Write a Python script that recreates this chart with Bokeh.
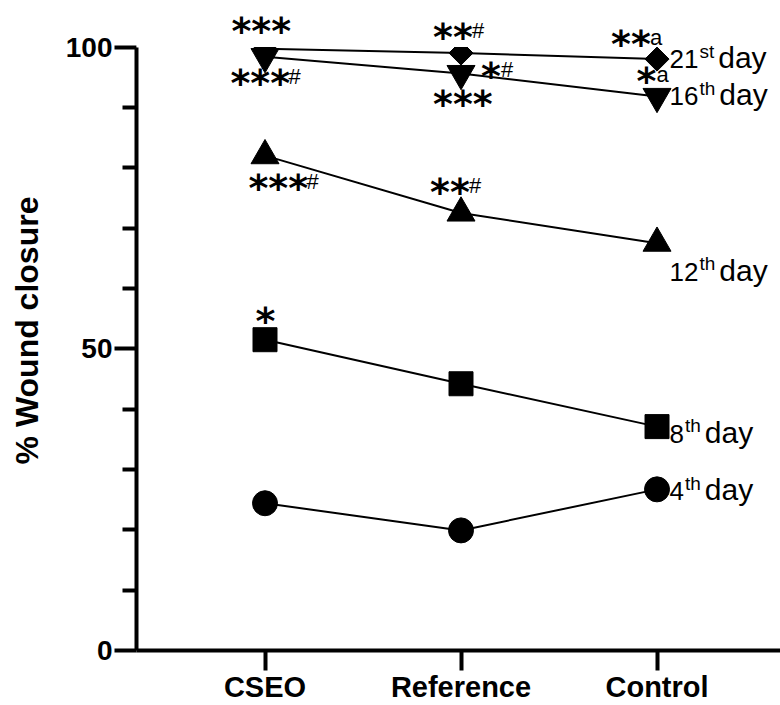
import math
from bokeh.plotting import figure
from bokeh.models import Range1d, FixedTicker, BoxAnnotation, ColumnDataSource
from bokeh.core.properties import value
from bokeh.embed import file_html
from bokeh.resources import INLINE

# ---------------- data ----------------
groups = ["CSEO", "Reference", "Control"]
day4 = [24.4, 19.9, 26.7]
day8 = [51.5, 44.2, 37.1]
day12 = [82.0, 72.5, 67.5]
day16 = [98.4, 95.6, 91.8]
day21 = [99.7, 99.0, 98.0]
series = {"4": day4, "8": day8, "12": day12, "16": day16, "21": day21}
day_numbers = ["4", "8", "12", "16", "21"]
day_suffix = ["th", "th", "th", "th", "st"]
y_ticks = [0, 50, 100]
y_minor = [10, 20, 30, 40, 60, 70, 80, 90]

# significance annotations
ann_stars = ["***", "***", "**", "*", "***", "**", "*", "***", "**", "*"]
ann_suffix = ["", "#", "#", "#", "", "a", "a", "#", "#", ""]
ann_group = [0, 0, 1, 1, 1, 2, 2, 0, 1, 0]
ann_series = ["21", "16", "21", "16", "16", "21", "16", "12", "12", "8"]

# ---------------- styles ----------------
markers = {"4": ("circle", 25, 0), "8": ("square", 24, 0), "12": ("triangle", 28, 0),
           "16": ("inverted_triangle", 28, 0), "21": ("square", 17, math.pi / 4)}
ann_dx = [-33.5, -34.5, -28, 20, -28, -46, -20.5, -16.5, -31, -9.5]
ann_dy = [-23, 21, -21, -3, 25.5, -20.5, -20.5, 27.5, -26, -24]
day_dy = {"4": 11, "8": 16, "12": 37.5, "16": 9, "21": 9}
STAR_SIZE = 38
STAR_ADV = 0.5 * STAR_SIZE
STAR_SHIFT = 0.135 * STAR_SIZE      # star centre -> drawing position
SUF_SIZE = 22
SUF_RISE = 6.5                     # suffix baseline below star centre
NUM_SIZE, SUP_SIZE, DAY_SIZE = 26, 19, 30
BASE_CORR = 0.35                   # baseline correction (em) of the svg text placement

W = {'0': .556, '1': .556, '2': .556, '4': .556, '6': .556, '8': .556,
     's': .5, 't': .278, 'h': .556, 'd': .556, 'a': .556, 'y': .5}


def tw(s, size):
    return sum(W[c] for c in s) * size


xs = list(range(1, len(groups) + 1))

p = figure(width=780, height=705, x_range=Range1d(0.3444, 3.630), y_range=Range1d(0, 106.05),
           output_backend="svg", toolbar_location=None, title=None,
           min_border_left=136, min_border_right=0, min_border_top=10, min_border_bottom=0)
p.outline_line_color = None
p.xgrid.visible = False
p.ygrid.visible = False
p.background_fill_color = "white"

# axes
p.xaxis.ticker = FixedTicker(ticks=xs)
p.xaxis.major_label_overrides = {x: g for x, g in zip(xs, groups)}
p.yaxis.ticker = FixedTicker(ticks=y_ticks, minor_ticks=y_minor)
p.yaxis.bounds = (y_ticks[0], y_ticks[-1])
for ax in (p.xaxis, p.yaxis):
    ax.axis_line_width = 4
    ax.axis_line_color = "black"
    ax.major_tick_line_width = 4
    ax.minor_tick_line_width = 4
    ax.major_tick_line_color = "black"
    ax.minor_tick_line_color = "black"
    ax.major_tick_in = 0
    ax.minor_tick_in = 0
    ax.major_label_text_font = "Liberation Sans"
    ax.major_label_text_font_style = "bold"
    ax.major_label_text_color = "black"
p.xaxis.major_tick_out = 20
p.xaxis.major_label_standoff = 0
p.xaxis.major_label_text_font_size = "29px"
p.yaxis.major_tick_out = 22
p.yaxis.minor_tick_out = 14
p.yaxis.major_label_standoff = 2
p.yaxis.major_label_text_font_size = "28px"
p.yaxis.axis_label = "% Wound closure"
p.yaxis.axis_label_text_font = "Liberation Sans"
p.yaxis.axis_label_text_font_style = "bold"
p.yaxis.axis_label_text_font_size = "32px"
p.yaxis.axis_label_text_color = "black"
p.yaxis.axis_label_standoff = 18

# series
for key in day_numbers:
    vals = series[key]
    mk, sz, ang = markers[key]
    p.line(xs, vals, line_width=2, line_color="black")
    p.scatter(xs, vals, marker=mk, size=sz, angle=ang, fill_color="black", line_color="black")

# points above 100 % are cut off at the top of the axis
p.add_layout(BoxAnnotation(bottom=y_ticks[-1], fill_color="white", fill_alpha=1.0,
                           line_alpha=0, level="guide"))

# day labels at the right
num_src = dict(x=[], y=[], text=[], dx=[], dy=[])
sup_src = dict(x=[], y=[], text=[], dx=[], dy=[])
day_src = dict(x=[], y=[], text=[], dx=[], dy=[])
for num, suf in zip(day_numbers, day_suffix):
    yv = series[num][-1]
    xv = xs[-1]
    dy = day_dy[num]
    x0 = 12.5
    x1 = x0 + tw(num, NUM_SIZE) + 1
    x2 = x1 + tw(suf, SUP_SIZE) + 4
    for src, t, dx, ddy in ((num_src, num, x0, dy - BASE_CORR * NUM_SIZE),
                            (sup_src, suf, x1, dy - 10 - BASE_CORR * SUP_SIZE),
                            (day_src, "day", x2, dy - BASE_CORR * DAY_SIZE)):
        src["x"].append(xv)
        src["y"].append(yv)
        src["text"].append(t)
        src["dx"].append(dx)
        src["dy"].append(ddy)

for src, size in ((num_src, NUM_SIZE), (sup_src, SUP_SIZE), (day_src, DAY_SIZE)):
    r = p.text(x="x", y="y", text="text", x_offset="dx", y_offset="dy", source=ColumnDataSource(src),
               text_font=value("Liberation Sans"), text_font_size=value(f"{size}px"),
               text_color="black", text_align="left", text_baseline="alphabetic")
    r.level = "overlay"

# significance marks
star_src = dict(x=[], y=[], text=[], dx=[], dy=[])
suf_src = dict(x=[], y=[], text=[], dx=[], dy=[])
for stars, suf, g, s, dx, dy in zip(ann_stars, ann_suffix, ann_group, ann_series, ann_dx, ann_dy):
    xv = xs[g]
    yv = series[s][g]
    star_src["x"].append(xv)
    star_src["y"].append(yv)
    star_src["text"].append(stars)
    star_src["dx"].append(dx)
    star_src["dy"].append(dy + STAR_SHIFT)
    if suf:
        suf_src["x"].append(xv)
        suf_src["y"].append(yv)
        suf_src["text"].append(suf)
        suf_src["dx"].append(dx + len(stars) * STAR_ADV + 1)
        suf_src["dy"].append(dy + SUF_RISE - BASE_CORR * SUF_SIZE)

r = p.text(x="x", y="y", text="text", x_offset="dx", y_offset="dy", source=ColumnDataSource(star_src),
           text_font=value("DejaVu Sans"), text_font_size=value(f"{STAR_SIZE}px"),
           text_font_style="bold", text_color="black", text_align="left", text_baseline="alphabetic")
r.level = "overlay"
r = p.text(x="x", y="y", text="text", x_offset="dx", y_offset="dy", source=ColumnDataSource(suf_src),
           text_font=value("Liberation Sans"), text_font_size=value(f"{SUF_SIZE}px"),
           text_color="black", text_align="left", text_baseline="alphabetic")
r.level = "overlay"

open("out.html", "w").write(file_html(p, INLINE))
